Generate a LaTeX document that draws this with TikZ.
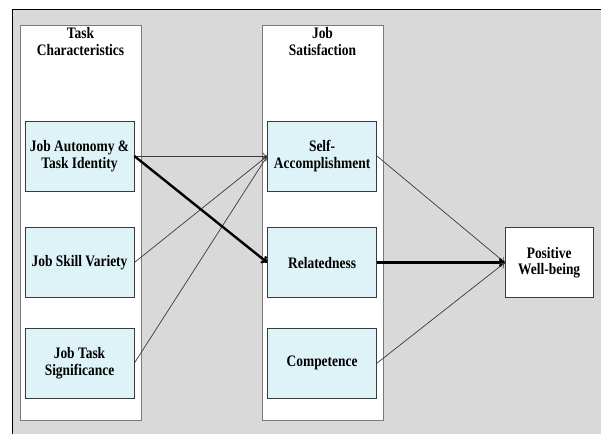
\documentclass[tikz,border=0pt]{standalone}
\usepackage{xcolor}
\usepackage{fontspec}
\setmainfont{Liberation Serif}[FakeStretch=0.84]
\usepackage{tikz}
\usetikzlibrary{arrows.meta, positioning}
\definecolor{panelback}{HTML}{D9D9D9}
\definecolor{factorfill}{HTML}{DDF3F8}
\definecolor{panelline}{HTML}{7A7A7A}
\definecolor{boxline}{HTML}{3A3A3A}
\tikzset{
  panel/.style={
    rectangle, draw=panelline, thick, fill=white,
    minimum width=121pt, minimum height=395pt,
  },
  title/.style={
    align=center, inner sep=0pt, anchor=north,
    font=\bfseries\fontsize{16}{17}\selectfont,
  },
  factor/.style={
    rectangle, draw=boxline, semithick, fill=factorfill,
    minimum width=109pt, minimum height=70pt,
    text centered, align=center,
    font=\bfseries\fontsize{16}{16.5}\selectfont,
  },
  outcome/.style={
    rectangle, draw=boxline, semithick, fill=white,
    minimum width=88pt, minimum height=70pt,
    text centered, align=center,
    font=\bfseries\fontsize{16}{16.5}\selectfont,
  },
  link/.style={-{To[length=5pt,width=7pt]}, line width=0.7pt, color=boxline},
  strong/.style={-{To[length=6pt,width=9pt]}, line width=2.4pt, color=black},
}
\begin{document}
\begin{tikzpicture}[x=1pt, y=-1pt, node distance=30pt]
  \useasboundingbox (0,0) rectangle (601,434);
  % background frame
  \fill[panelback] (12,9) rectangle (601,434);
  \draw[line width=0.9pt] (12,434) -- (12,9) -- (601,9);
  % columns
  \node[panel] (taskcol) at (80.5,222.5) {};
  \node[panel] (satcol) at (322.5,222.5) {};
  \node[title] (tasktitle) at (80.5,27.5) {Task\\Characteristics};
  \node[title] (sattitle) at (322.5,27.5) {Job\\Satisfaction};
  % task characteristics
  \node[factor] (ja) at (79.5,156) {Job Autonomy \&\\Task Identity};
  \node[factor, below=36pt of ja] (jsv) {Job Skill Variety};
  \node[factor, below=of jsv] (jts) {Job Task\\Significance};
  % job satisfaction
  \node[factor, right=133pt of ja] (sa) {Self-\\Accomplishment};
  \node[factor, right=133pt of jsv] (rel) {Relatedness};
  \node[factor, right=133pt of jts] (comp) {Competence};
  % outcome
  \node[outcome, right=128pt of rel] (pwb) {Positive\\Well-being};
  % paths
  \draw[link] (ja.east) -- (sa.west);
  \draw[link] (jsv.east) -- (sa.west);
  \draw[link] (jts.east) -- (sa.west);
  \draw[strong] (ja.east) -- (rel.west);
  \draw[link] (sa.east) -- (pwb.west);
  \draw[strong] (rel.east) -- (pwb.west);
  \draw[link] (comp.east) -- (pwb.west);
\end{tikzpicture}
\end{document}
